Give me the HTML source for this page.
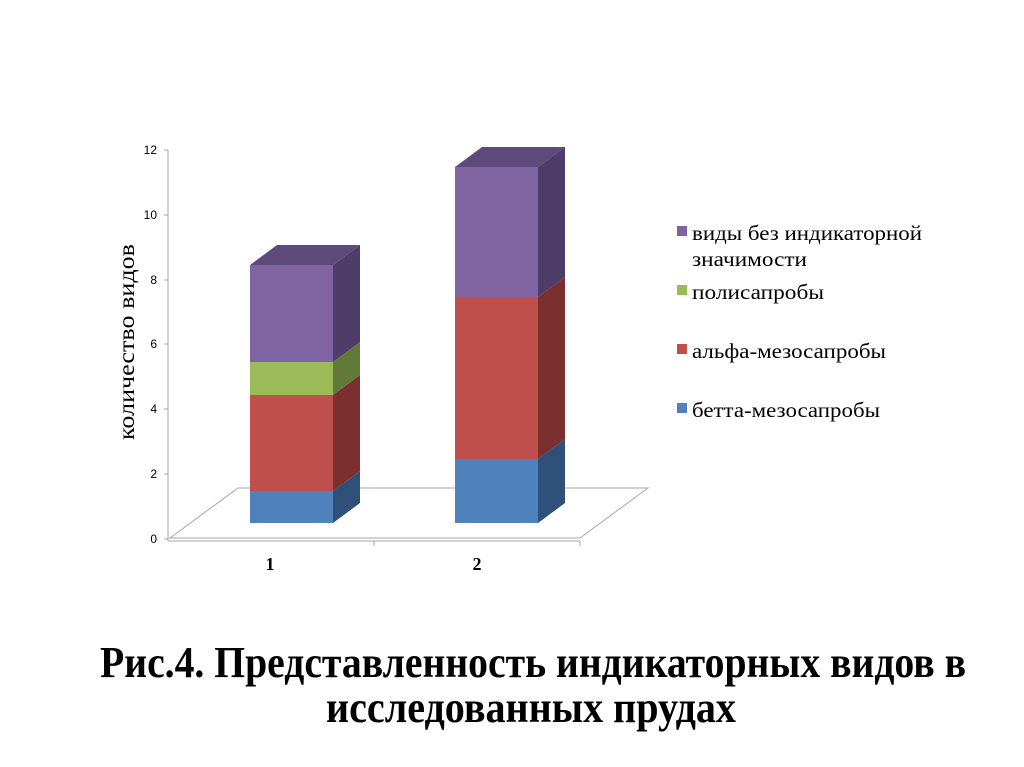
<!DOCTYPE html>
<html><head><meta charset="utf-8"><style>html,body{margin:0;padding:0;background:#fff}svg{display:block}</style></head>
<body>
<svg width="1024" height="767" viewBox="0 0 1024 767" xmlns="http://www.w3.org/2000/svg">
<rect width="1024" height="767" fill="#fff"/>
<polygon points="170,538 580,538 648,488 238,488" fill="#fff" stroke="#a6a6a6" stroke-width="1"/>
<line x1="168" y1="150" x2="168" y2="541" stroke="#a6a6a6"/>
<line x1="168" y1="541" x2="580" y2="541" stroke="#a6a6a6"/>
<g stroke="#a6a6a6"><line x1="164" y1="150" x2="168" y2="150"/><line x1="164" y1="215" x2="168" y2="215"/><line x1="164" y1="280" x2="168" y2="280"/><line x1="164" y1="344" x2="168" y2="344"/><line x1="164" y1="409" x2="168" y2="409"/><line x1="164" y1="474" x2="168" y2="474"/><line x1="164" y1="539" x2="168" y2="539"/>
<line x1="374" y1="541" x2="374" y2="546"/><line x1="580" y1="541" x2="580" y2="546"/></g>
<g font-family="Liberation Sans, DejaVu Sans, sans-serif" font-size="12" fill="#000" text-anchor="end">
<text x="157" y="154">12</text><text x="157" y="219">10</text><text x="157" y="284">8</text><text x="157" y="348">6</text><text x="157" y="413">4</text><text x="157" y="478">2</text><text x="157" y="543">0</text></g>
<text transform="translate(134,440) rotate(-90)" font-family="Liberation Serif, 'Noto Serif CJK SC', serif" font-size="23" textLength="196" lengthAdjust="spacingAndGlyphs">количество видов</text>
<g>
<rect x="250" y="491" width="83" height="32" fill="#4f81bd"/>
<polygon points="333,491 360,471 360,503 333,523" fill="#2f5079"/>
<rect x="250" y="395" width="83" height="96" fill="#c0504d"/>
<polygon points="333,395 360,375 360,471 333,491" fill="#7b2f2e"/>
<rect x="250" y="362" width="83" height="33" fill="#9bbb59"/>
<polygon points="333,362 360,342 360,375 333,395" fill="#627a37"/>
<rect x="250" y="265" width="83" height="97" fill="#8064a2"/>
<polygon points="333,265 360,245 360,342 333,362" fill="#4f3d69"/>
<polygon points="250,265 333,265 360,245 277,245" fill="#5f4a7c"/>
</g>
<g>
<rect x="455" y="459" width="83" height="64" fill="#4f81bd"/>
<polygon points="538,459 565,439 565,503 538,523" fill="#2f5079"/>
<rect x="455" y="297" width="83" height="162" fill="#c0504d"/>
<polygon points="538,297 565,277 565,439 538,459" fill="#7b2f2e"/>
<rect x="455" y="167" width="83" height="130" fill="#8064a2"/>
<polygon points="538,167 565,147 565,277 538,297" fill="#4f3d69"/>
<polygon points="455,167 538,167 565,147 482,147" fill="#5f4a7c"/>
</g>
<g font-family="Liberation Serif, serif" font-size="18" font-weight="bold" text-anchor="middle">
<text x="270" y="570">1</text><text x="477" y="570">2</text></g>
<rect x="677" y="226" width="10" height="10" fill="#8064a2"/>
<rect x="677" y="285" width="10" height="10" fill="#9bbb59"/>
<rect x="677" y="344" width="10" height="10" fill="#c0504d"/>
<rect x="677" y="403" width="10" height="10" fill="#4f81bd"/>
<g font-family="Liberation Serif, 'Noto Serif CJK SC', serif" font-size="21" fill="#000" lengthAdjust="spacingAndGlyphs">
<text x="692" y="240" textLength="230" lengthAdjust="spacingAndGlyphs">виды без индикаторной</text>
<text x="692" y="266" textLength="115" lengthAdjust="spacingAndGlyphs">значимости</text>
<text x="692" y="299" textLength="132" lengthAdjust="spacingAndGlyphs">полисапробы</text>
<text x="692" y="358" textLength="194" lengthAdjust="spacingAndGlyphs">альфа-мезосапробы</text>
<text x="692" y="417" textLength="188" lengthAdjust="spacingAndGlyphs">бетта-мезосапробы</text>
</g>
<g font-family="Liberation Serif, 'Noto Serif CJK SC', serif" font-size="44" font-weight="bold" fill="#000">
<text x="100" y="677" textLength="866" lengthAdjust="spacingAndGlyphs">Рис.4. Представленность индикаторных видов в</text>
<text x="326" y="722" textLength="410" lengthAdjust="spacingAndGlyphs">исследованных прудах</text>
</g>
</svg>
</body></html>
